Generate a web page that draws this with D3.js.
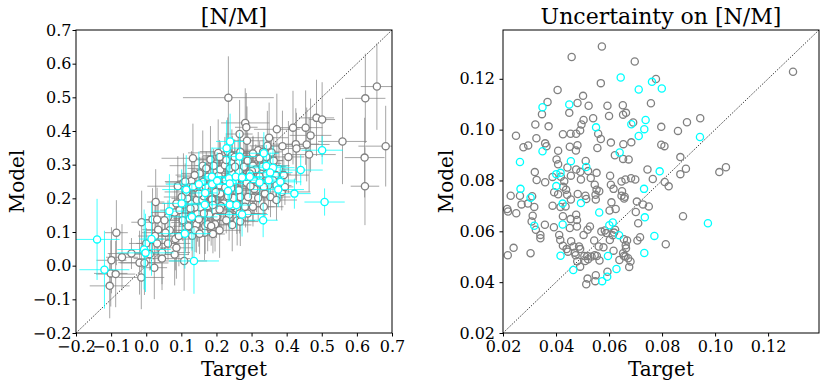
<!DOCTYPE html>
<html>
<head>
<meta charset="utf-8">
<script src="https://cdn.jsdelivr.net/npm/d3@7"></script>
<style>
  body { margin: 0; background: #fff; }
  svg text { font-family: "DejaVu Serif", serif; fill: #000; }
</style>
</head>
<body>
<div id="chart"></div>
<script>
// [N/M] values, gray sample
var grayTarget = [0.234,0.624,0.657,0.559,0.682,0.622,0.623,0.485,0.501,0.454,0.418,0.468,0.457,0.464,0.426,0.428,0.405,0.388,0.372,0.350,
  0.345,0.282,0.285,0.266,0.287,0.232,0.205,0.133,0.161,0.183,0.027,-0.085,-0.099,-0.069,-0.101,-0.087,-0.104,-0.019,-0.014,-0.005,
  -0.013,0.018,0.031,0.023,0.034,0.025,0.045,0.045,0.081,0.086,0.083,0.093,0.108,0.081,0.090,0.106,0.129,0.112,0.120,0.131,
  0.143,0.146,0.129,0.144,0.150,0.166,0.168,0.175,0.179,0.175,0.187,0.196,0.209,0.211,0.209,0.206,0.211,0.224,0.245,0.228,
  0.244,0.262,0.278,0.289,0.304,0.312,0.333,0.354,0.363,0.378,0.369,0.361,0.371,0.338,0.317,0.314,0.304,0.308,0.286,0.283,
  0.290,0.264,0.268,0.258,0.259,0.268,0.245,0.236,0.230,0.249,0.221,0.213,0.196,0.253,0.244,0.264,0.285,0.301,0.323,0.348,
  0.335,0.297,0.319,0.169,0.162,0.176,0.160,0.154,0.164,0.138,0.126,0.139,0.152,0.185,0.190,0.200,0.225,0.233,0.242,0.190,
  0.198,0.117,0.133,0.124,0.104,0.150,0.190,0.209,0.289,0.335,0.354,0.371,0.266,0.247,0.304,0.226,0.238,0.253,0.274,0.306,
  0.295,0.331,0.342,0.392,0.386,0.395,0.357,0.342,0.319,0.304,0.323,0.268,0.252,0.209,0.192,0.171,0.152,0.138,0.111,0.114,
  0.101,0.086,0.095,0.062,0.052,0.067,0.055,0.062,0.010,-0.042,0.000,0.031,0.164,0.281,0.228,0.333];
var grayModel = [0.499,0.497,0.532,0.369,0.355,0.321,0.236,0.439,0.434,0.410,0.410,0.387,0.360,0.330,0.361,0.348,0.323,0.355,0.405,0.380,
  0.356,0.424,0.411,0.391,0.371,0.339,0.335,0.319,0.297,0.315,0.189,0.098,0.016,0.025,-0.023,-0.025,-0.060,0.009,-0.035,0.008,
  0.129,0.137,0.137,-0.006,0.107,0.088,0.039,0.021,0.033,0.053,0.079,0.088,0.014,0.158,0.236,0.246,0.252,0.128,0.117,0.089,
  0.122,0.155,0.184,0.195,0.138,0.098,0.118,0.123,0.152,0.177,0.197,0.123,0.105,0.214,0.239,0.267,0.286,0.298,0.304,0.314,
  0.327,0.307,0.294,0.312,0.297,0.286,0.277,0.304,0.312,0.287,0.269,0.254,0.239,0.214,0.264,0.226,0.202,0.228,0.246,0.191,
  0.204,0.224,0.204,0.169,0.134,0.131,0.121,0.151,0.195,0.201,0.185,0.177,0.163,0.250,0.274,0.279,0.264,0.281,0.265,0.238,
  0.234,0.236,0.201,0.236,0.249,0.264,0.195,0.173,0.206,0.173,0.170,0.105,0.095,0.118,0.094,0.145,0.232,0.206,0.229,0.254,
  0.219,0.200,0.234,0.140,0.135,0.214,0.180,0.167,0.155,0.175,0.204,0.195,0.155,0.177,0.175,0.254,0.289,0.294,0.264,0.256,
  0.274,0.294,0.272,0.269,0.219,0.234,0.336,0.323,0.343,0.333,0.318,0.338,0.323,0.323,0.297,0.289,0.274,0.269,0.250,0.219,
  0.204,0.185,0.165,0.145,0.135,0.105,0.098,0.066,0.034,0.036,0.066,0.066,0.155,0.175,0.135,0.338];

// uncertainties, gray sample
var grayErrTarget = [0.1294,0.0573,0.0459,0.0697,0.0777,0.0569,0.0406,0.0502,0.0368,0.0481,0.0523,0.0594,0.0652,0.0758,0.0664,0.0347,0.0450,0.0600,0.0653,0.0540,
  0.0504,0.0691,0.0322,0.0372,0.0496,0.0797,0.0860,0.0894,0.0944,0.0491,0.0249,0.0326,0.0426,0.0455,0.0476,0.0559,0.0569,0.0607,0.0654,0.0684,
  0.0295,0.0277,0.0359,0.0364,0.0452,0.0481,0.0797,0.0809,0.0408,0.0475,0.0556,0.0622,0.0653,0.0674,0.0869,0.0512,0.0402,0.0408,0.0443,0.0476,
  0.0492,0.0521,0.0553,0.0456,0.0418,0.0387,0.0320,0.0327,0.0359,0.0431,0.0494,0.0531,0.0604,0.0647,0.0662,0.0683,0.0699,0.0745,0.0765,0.0810,
  0.0825,0.0869,0.0890,0.1016,0.1041,0.0229,0.0264,0.0310,0.0270,0.0294,0.0318,0.0312,0.0308,0.0216,0.0219,0.0250,0.0387,0.0393,0.0408,0.0427,
  0.0438,0.0442,0.0456,0.0482,0.0511,0.0514,0.0546,0.0553,0.0549,0.0550,0.0563,0.0607,0.0617,0.0609,0.0602,0.0625,0.0649,0.0647,0.0659,0.0657,
  0.0705,0.0728,0.0701,0.0710,0.0750,0.0879,0.0417,0.0436,0.0476,0.0455,0.0426,0.0479,0.0324,0.0341,0.0341,0.0358,0.0392,0.0412,0.0416,0.0426,
  0.0440,0.0452,0.0457,0.0466,0.0479,0.0504,0.0528,0.0519,0.0544,0.0561,0.0571,0.0584,0.0590,0.0603,0.0614,0.0619,0.0623,0.0656,0.0663,0.0664,
  0.0653,0.0668,0.0707,0.0717,0.0814,0.0240,0.0218,0.0304,0.0487,0.0491,0.0471,0.0474,0.0445,0.0507,0.0518,0.0534,0.0521,0.0546,0.0579,0.0617,
  0.0510,0.0480,0.0554,0.0564,0.0656,0.0662,0.0672,0.0639,0.0681,0.0676,0.0491,0.0594,0.0550,0.0519,0.0514,0.0548];
var grayErrModel = [0.1228,0.1327,0.1286,0.1268,0.1199,0.1183,0.1156,0.1133,0.1109,0.1105,0.1094,0.1094,0.1096,0.1104,0.1066,0.1061,0.1066,0.1054,0.1059,0.1045,
  0.1038,0.1028,0.1020,0.1013,0.1020,0.1011,0.0995,0.1029,0.1045,0.0997,0.0976,0.0966,0.0982,0.0984,0.0984,0.0984,0.0963,0.0949,0.0943,0.0950,
  0.0938,0.0931,0.0946,0.0935,0.0933,0.0939,0.0941,0.0935,0.0917,0.0918,0.0928,0.0899,0.0885,0.0883,0.0892,0.0877,0.0883,0.0864,0.0851,0.0843,
  0.0834,0.0837,0.0830,0.0819,0.0815,0.0814,0.0833,0.0802,0.0793,0.0797,0.0804,0.0810,0.0819,0.0796,0.0804,0.0809,0.0804,0.0843,0.0806,0.0794,
  0.0777,0.0825,0.0846,0.0833,0.0852,0.0740,0.0740,0.0738,0.0706,0.0709,0.0696,0.0661,0.0639,0.0688,0.0678,0.0671,0.0701,0.0754,0.0746,0.0775,
  0.0764,0.0744,0.0725,0.0747,0.0740,0.0727,0.0783,0.0764,0.0744,0.0725,0.0758,0.0783,0.0767,0.0714,0.0682,0.0688,0.0758,0.0740,0.0736,0.0729,
  0.0717,0.0706,0.0676,0.0632,0.0698,0.0659,0.0696,0.0698,0.0665,0.0648,0.0659,0.0645,0.0606,0.0586,0.0573,0.0626,0.0616,0.0586,0.0566,0.0543,
  0.0530,0.0613,0.0561,0.0540,0.0619,0.0586,0.0619,0.0606,0.0564,0.0540,0.0599,0.0603,0.0593,0.0566,0.0585,0.0595,0.0606,0.0569,0.0545,0.0533,
  0.0514,0.0564,0.0564,0.0577,0.0549,0.0535,0.0506,0.0514,0.0540,0.0530,0.0516,0.0506,0.0520,0.0503,0.0503,0.0501,0.0490,0.0506,0.0537,0.0524,
  0.0483,0.0482,0.0503,0.0485,0.0503,0.0501,0.0494,0.0487,0.0481,0.0460,0.0461,0.0441,0.0427,0.0414,0.0392,0.0404];

// [N/M] values, cyan sample
var cyanTarget = [-0.140,-0.119,-0.006,-0.002,0.015,0.066,0.101,0.114,0.110,0.130,0.136,0.150,0.168,0.167,0.187,0.188,0.202,0.229,0.239,0.236,
  0.238,0.233,0.238,0.255,0.257,0.266,0.273,0.273,0.295,0.323,0.335,0.342,0.361,0.353,0.349,0.333,0.382,0.376,0.422,0.440,0.501,0.508];
var cyanModel = [0.078,-0.012,0.048,0.038,0.079,0.162,0.185,0.226,0.095,0.145,0.014,0.242,0.216,0.181,0.264,0.242,0.252,0.349,0.369,0.260,
  0.244,0.222,0.181,0.264,0.180,0.324,0.262,0.152,0.264,0.247,0.334,0.296,0.291,0.277,0.254,0.135,0.249,0.226,0.214,0.284,0.343,0.189];

// uncertainties, cyan sample
var cyanErrTarget = [0.0644,0.0712,0.0762,0.0799,0.0349,0.0450,0.0551,0.0684,0.0738,0.0733,0.0712,0.0943,0.0349,0.0640,0.0264,0.0456,0.0514,0.0417,0.0401,0.0791,
  0.0401,0.0266,0.0304,0.0732,0.0425,0.0494,0.0563,0.0735,0.0973,0.0318,0.0425,0.0601,0.0614,0.0638,0.0771,0.0417,0.0596,0.0733,0.0465,0.0628,0.0593,0.0574];
var cyanErrModel = [0.1205,0.1158,0.1188,0.1162,0.1088,0.1099,0.1009,0.1021,0.1038,0.1002,0.0975,0.0971,0.0915,0.0910,0.0873,0.0876,0.0853,0.0830,0.0825,0.0836,
  0.0778,0.0767,0.0732,0.0767,0.0709,0.0711,0.0674,0.0655,0.0632,0.0622,0.0627,0.0624,0.0635,0.0585,0.0582,0.0504,0.0503,0.0515,0.0448,0.0452,0.0421,0.0404];

var valueTicks = [-0.2, -0.1, 0.0, 0.1, 0.2, 0.3, 0.4, 0.5, 0.6, 0.7];
var errTicks = [0.02, 0.04, 0.06, 0.08, 0.10, 0.12];

var width = 830, height = 388;
var svg = d3.select('#chart').append('svg')
    .attr('width', width)
    .attr('height', height);

function zip(a, b, c, d) {
    return a.map(function(v, i) {
        return { x: v, y: b[i], ex: c ? (c[i] || 0) : 0, ey: d ? (d[i] || 0) : 0 };
    });
}

function makePanel(opts) {
    var x = d3.scaleLinear().domain(opts.domain).range([opts.left, opts.right]);
    var y = d3.scaleLinear().domain(opts.domain).range([opts.bottom, opts.top]);
    var g = svg.append('g');

    var clipId = 'clip-' + opts.id;
    svg.append('clipPath').attr('id', clipId)
        .append('rect')
        .attr('x', opts.left).attr('y', opts.top)
        .attr('width', opts.right - opts.left).attr('height', opts.bottom - opts.top);

    var plot = g.append('g').attr('clip-path', 'url(#' + clipId + ')');

    // one-to-one line
    plot.append('line')
        .attr('x1', x(opts.domain[0])).attr('y1', y(opts.domain[0]))
        .attr('x2', x(opts.domain[1])).attr('y2', y(opts.domain[1]))
        .attr('stroke', '#000')
        .attr('stroke-width', 1)
        .attr('stroke-dasharray', '1,1.6');

    opts.series.forEach(function(s) {
        if (opts.errorbars) {
            var eb = plot.append('g')
                .attr('stroke', s.color)
                .attr('stroke-opacity', s.barOpacity)
                .attr('stroke-width', 1);
            eb.selectAll('line.h').data(s.data).enter().append('line')
                .attr('class', 'h')
                .attr('x1', function(d) { return x(d.x - d.ex); })
                .attr('x2', function(d) { return x(d.x + d.ex); })
                .attr('y1', function(d) { return y(d.y); })
                .attr('y2', function(d) { return y(d.y); });
            eb.selectAll('line.v').data(s.data).enter().append('line')
                .attr('class', 'v')
                .attr('x1', function(d) { return x(d.x); })
                .attr('x2', function(d) { return x(d.x); })
                .attr('y1', function(d) { return y(d.y - d.ey); })
                .attr('y2', function(d) { return y(d.y + d.ey); });
        }
        plot.append('g').selectAll('circle').data(s.data).enter().append('circle')
            .attr('cx', function(d) { return x(d.x); })
            .attr('cy', function(d) { return y(d.y); })
            .attr('r', 3.6)
            .attr('fill', opts.errorbars ? '#fff' : 'none')
            .attr('stroke', s.color)
            .attr('stroke-width', 1.3);
    });

    var fmt = d3.format(opts.fmt);
    var xAxis = d3.axisBottom(x).tickValues(opts.ticks).tickFormat(fmt).tickSize(3.5).tickPadding(4.5);
    var yAxis = d3.axisLeft(y).tickValues(opts.ticks).tickFormat(fmt).tickSize(3.5).tickPadding(opts.yPad);

    var gx = g.append('g').attr('transform', 'translate(0,' + opts.bottom + ')').call(xAxis);
    var gy = g.append('g').attr('transform', 'translate(' + opts.left + ',0)').call(yAxis);
    [gx, gy].forEach(function(a) {
        a.select('.domain').remove();
        a.selectAll('text').style('font-family', '"DejaVu Serif", serif').style('font-size', '16px').attr('fill', '#000');
        a.selectAll('line').attr('stroke', '#000');
    });

    g.append('rect')
        .attr('x', opts.left).attr('y', opts.top)
        .attr('width', opts.right - opts.left).attr('height', opts.bottom - opts.top)
        .attr('fill', 'none')
        .attr('stroke', '#000')
        .attr('stroke-width', 1);

    var cx = (opts.left + opts.right) / 2;
    g.append('text')
        .attr('x', cx).attr('y', 24)
        .attr('text-anchor', 'middle')
        .style('font-size', '22px')
        .text(opts.title);
    g.append('text')
        .attr('x', cx).attr('y', 376)
        .attr('text-anchor', 'middle')
        .style('font-size', '20px')
        .text('Target');
    g.append('text')
        .attr('transform', 'translate(' + opts.ylabelX + ',' + ((opts.top + opts.bottom) / 2) + ') rotate(-90)')
        .attr('text-anchor', 'middle')
        .style('font-size', '20px')
        .text('Model');
}

makePanel({
    id: 'values',
    domain: [-0.2, 0.7],
    left: 76, right: 392, top: 30, bottom: 333,
    ticks: valueTicks, fmt: '.1f', yPad: 1,
    title: '[N/M]', ylabelX: 24,
    errorbars: true,
    series: [
        { color: '#808080', barOpacity: 0.7, data: zip(grayTarget, grayModel, grayErrTarget, grayErrModel) },
        { color: '#00ffff', barOpacity: 0.75, data: zip(cyanTarget, cyanModel, cyanErrTarget, cyanErrModel) }
    ]
});

makePanel({
    id: 'errors',
    domain: [0.02, 0.1392],
    left: 503, right: 819, top: 30, bottom: 333,
    ticks: errTicks, fmt: '.2f', yPad: 4.5,
    title: 'Uncertainty on [N/M]', ylabelX: 453,
    errorbars: false,
    series: [
        { color: '#808080', data: zip(grayErrTarget, grayErrModel) },
        { color: '#00ffff', data: zip(cyanErrTarget, cyanErrModel) }
    ]
});
</script>
</body>
</html>
